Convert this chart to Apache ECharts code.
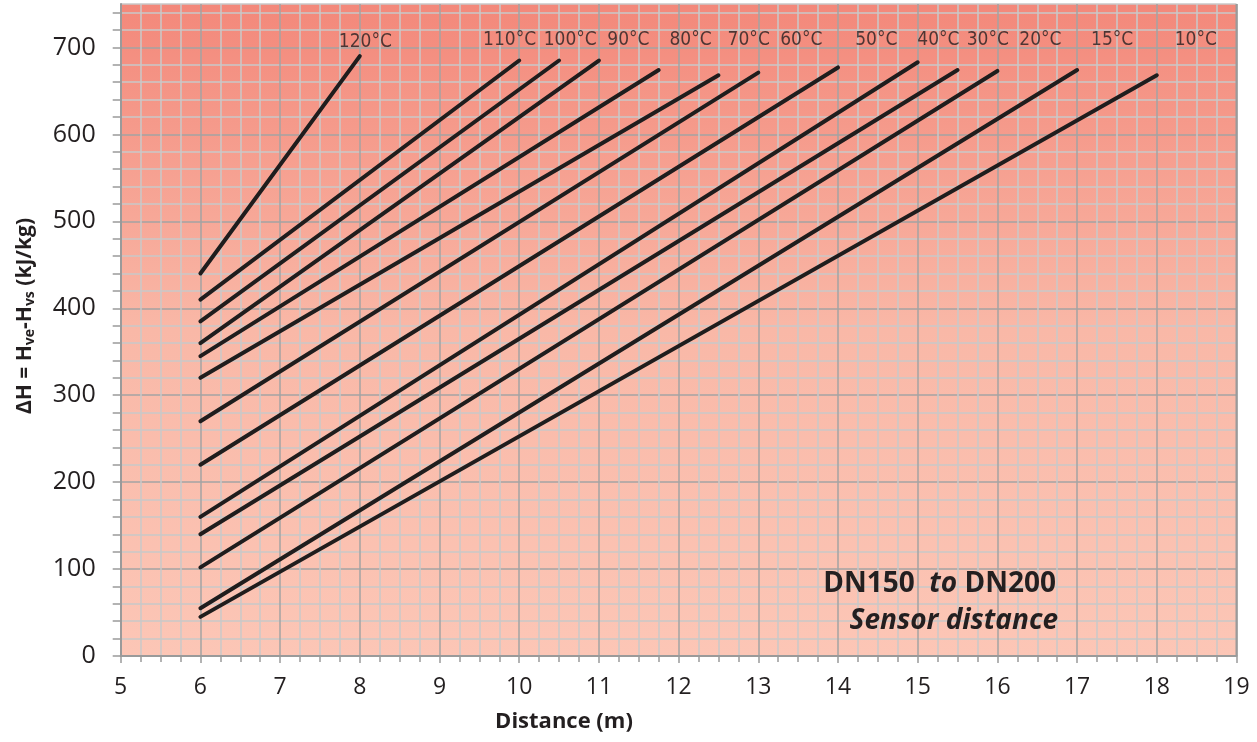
<!DOCTYPE html>
<html>
<head>
<meta charset="utf-8">
<script src="https://cdn.jsdelivr.net/npm/echarts@6/dist/echarts.min.js"></script>
<style>
html,body{margin:0;padding:0;background:#fff;}
#chart{width:1257px;height:742px;}
</style>
</head>
<body>
<div id="chart"></div>
<script>
// Data
const temps     = ['120°C','110°C','100°C','90°C','80°C','70°C','60°C','50°C','40°C','30°C','20°C','15°C','10°C'];
const startDist = [6, 6, 6, 6, 6, 6, 6, 6, 6, 6, 6, 6, 6];
const startDH   = [440, 410, 385, 360, 345, 320, 270, 220, 160, 140, 102, 55, 45];
const endDist   = [8, 10, 10.5, 11, 11.75, 12.5, 13, 14, 15, 15.5, 16, 17, 18];
const endDH     = [690, 685, 685, 685, 674, 668, 671, 677, 683, 674, 673, 674, 668];
const labelDist = [8.07, 9.88, 10.64, 11.37, 12.15, 12.88, 13.54, 14.48, 15.26, 15.88, 16.54, 17.44, 18.49];
const labelDH   = [706, 708, 708, 708, 708, 708, 708, 708, 708, 708, 708, 708, 708];
const xTicks    = [5, 6, 7, 8, 9, 10, 11, 12, 13, 14, 15, 16, 17, 18, 19];
const yTicks    = [0, 100, 200, 300, 400, 500, 600, 700];

const chart = echarts.init(document.getElementById('chart'), null, {renderer: 'canvas'});

const lineColor = '#1f1d1d';
const textColor = '#231f20';
const majorGrid = '#a3a3a3';
const minorGrid = '#c9c9c9';

const series = temps.map((t, i) => ({
  name: t,
  type: 'line',
  data: [[startDist[i], startDH[i]], [endDist[i], endDH[i]]],
  symbol: 'none',
  lineStyle: {color: lineColor, width: 4, cap: 'round'},
  silent: true,
  z: 5
}));

series.push({
  type: 'scatter',
  data: temps.map((t, i) => [labelDist[i], labelDH[i], t]),
  symbolSize: 1,
  itemStyle: {color: 'rgba(0,0,0,0)'},
  label: {
    show: true,
    position: 'inside',
    formatter: p => p.data[2],
    fontFamily: "'Liberation Sans Narrow', 'DejaVu Sans Condensed', 'Liberation Sans', sans-serif",
    fontSize: 19,
    color: textColor
  },
  silent: true,
  z: 6
});

const option = {
  animation: false,
  backgroundColor: '#ffffff',
  grid: {
    left: 120.7, right: 20.5, top: 4, bottom: 86,
    show: true,
    borderWidth: 0,
    outerBoundsMode: 'none',
    containLabel: false,
    backgroundColor: new echarts.graphic.LinearGradient(0, 0, 0, 1, [
      {offset: 0, color: '#f3887a'},
      {offset: 0.5, color: '#f9b8a7'},
      {offset: 1, color: '#fcc6b6'}
    ])
  },
  xAxis: {
    type: 'value',
    min: xTicks[0], max: xTicks[xTicks.length - 1], interval: 1,
    axisLine: {show: true, onZero: false, lineStyle: {color: '#9a9a9a', width: 2}},
    axisTick: {show: true, length: 7, lineStyle: {color: '#9a9a9a', width: 1.5}},
    minorTick: {show: true, splitNumber: 4, length: 6, lineStyle: {color: '#9a9a9a', width: 1.5}},
    splitLine: {show: true, lineStyle: {color: majorGrid, width: 1.5}},
    minorSplitLine: {show: true, lineStyle: {color: minorGrid, width: 1.5}},
    axisLabel: {fontSize: 23, fontFamily: 'Open Sans', color: textColor, margin: 20}
  },
  yAxis: {
    type: 'value',
    min: 0, max: 750, interval: 20,
    axisLine: {show: true, lineStyle: {color: '#9a9a9a', width: 2}},
    axisTick: {show: true, length: 8, lineStyle: {color: '#9a9a9a', width: 1.5}},
    splitLine: {show: true, lineStyle: {color: [majorGrid, minorGrid, minorGrid, minorGrid, minorGrid], width: 1.5}},
    axisLabel: {
      fontSize: 25, fontFamily: 'Open Sans', color: textColor, margin: 25,
      showMaxLabel: false,
      formatter: v => (yTicks.indexOf(v) >= 0 ? String(v) : '')
    }
  },
  graphic: [
    {
      type: 'rect', silent: true, z: 10,
      shape: {x: 1236.5, y: 4, width: 0, height: 652},
      style: {stroke: '#9a9a9a', lineWidth: 2, fill: null}
    },
    {
      type: 'text', silent: true,
      x: 25, y: 316, rotation: Math.PI / 2,
      style: {
        text: '{b|ΔH = H}{s|ve}{b|-H}{s|vs}{b| (kJ/kg)}',
        align: 'center', verticalAlign: 'middle',
        fill: textColor,
        rich: {
          b: {fontFamily: 'Open Sans', fontWeight: 'bold', fontSize: 21, fill: textColor, lineHeight: 25},
          s: {fontFamily: 'Open Sans', fontWeight: 'bold', fontSize: 14, fill: textColor, verticalAlign: 'bottom', lineHeight: 15}
        }
      }
    },
    {
      type: 'text', silent: true,
      x: 564, y: 722,
      style: {text: 'Distance (m)', fontFamily: 'Open Sans', fontWeight: 'bold', fontSize: 22, fill: textColor, align: 'center', verticalAlign: 'middle'}
    },
    {
      type: 'text', silent: true, z: 20,
      x: 1056, y: 584,
      style: {
        text: '{b|DN150  }{i|to}{b| DN200}',
        align: 'right', verticalAlign: 'middle',
        rich: {
          b: {fontFamily: 'Open Sans', fontWeight: 'bold', fontSize: 28, fill: textColor},
          i: {fontFamily: 'Open Sans', fontWeight: 'bold', fontStyle: 'italic', fontSize: 28, fill: textColor}
        }
      }
    },
    {
      type: 'text', silent: true, z: 20,
      x: 1058, y: 621,
      style: {text: 'Sensor distance', fontFamily: 'Open Sans', fontWeight: 'bold', fontStyle: 'italic', fontSize: 28, fill: textColor, align: 'right', verticalAlign: 'middle'}
    }
  ],
  series: series
};

chart.setOption(option);
</script>
</body>
</html>
